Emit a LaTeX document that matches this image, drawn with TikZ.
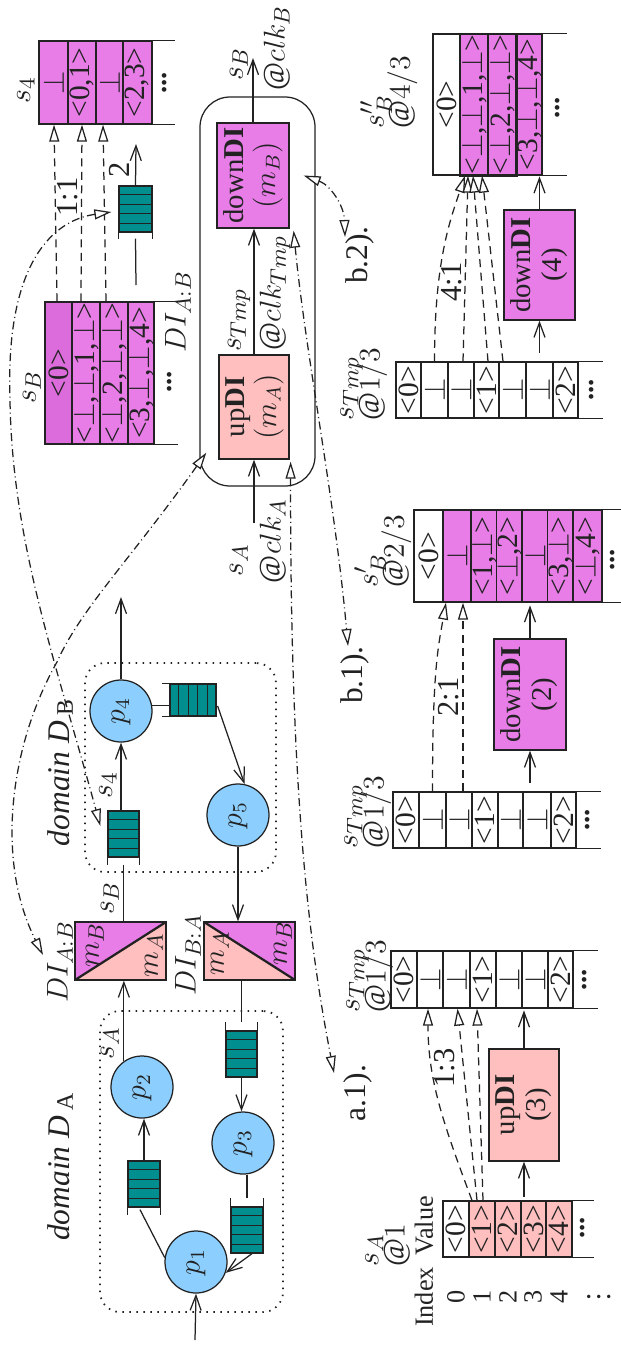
\documentclass[tikz,border=0pt]{standalone}
\usepackage{graphicx}
\usepackage{fontspec}
\setmainfont{Liberation Serif}
\usetikzlibrary{arrows.meta,calc}
\definecolor{mag}{HTML}{E87DE8}
\definecolor{magd}{HTML}{DC6CDC}
\definecolor{pnk}{HTML}{FFBFBF}
\definecolor{lblue}{HTML}{8CCFFF}
\definecolor{qteal}{HTML}{008E8E}
\definecolor{ln}{HTML}{222222}
\newcommand\R[1]{\rotatebox{90}{#1}}
\newcommand\xbot{$\bot$}
\tikzset{
  sz/.code 2 args={\pgfmathsetlengthmacro\szw{(#1)*0.4pt}\pgfmathsetlengthmacro\szh{(#2)*0.4pt}\pgfkeysalso{/tikz/minimum width=\szw,/tikz/minimum height=\szh}},
  tcell/.style={draw,inner sep=0pt,font=\fontsize{11.8}{13}\selectfont},
  qnode/.style={draw,fill=qteal},
  proc/.style={circle,draw,fill=lblue,minimum size=24.8pt},
  arr/.style={-{Straight Barb[length=6pt,width=4.4pt]}},
  dasharr/.style={dash pattern=on 3.2pt off 2.2pt,-{Triangle[length=6.8pt,width=4pt,fill=white]}},
  dd/.style={dash pattern=on 3.2pt off 1.4pt on 0.4pt off 1.4pt,{Triangle[length=6.8pt,width=4pt,fill=white]}-{Triangle[length=6.8pt,width=4pt,fill=white]}},
  dom/.style={draw,dash pattern=on 0.6pt off 2.2pt,rounded corners=8pt,line width=0.7pt},
  diA/.style={draw,fill=pnk,path picture={\fill[mag] (path picture bounding box.north west) -- (path picture bounding box.north east) -- (path picture bounding box.south west) -- cycle; \draw[line width=0.9pt] (path picture bounding box.south west) -- (path picture bounding box.north east);}},
  diB/.style={draw,fill=pnk,path picture={\fill[mag] (path picture bounding box.north west) -- (path picture bounding box.north east) -- (path picture bounding box.south east) -- cycle; \draw[line width=0.9pt] (path picture bounding box.north west) -- (path picture bounding box.south east);}},
  small/.style={font=\fontsize{10.5}{12}\selectfont},
  lbl/.style={font=\fontsize{12.2}{13}\selectfont},
  big/.style={font=\fontsize{12.6}{14}\selectfont}
}
\newcommand\tcell[7]{\node[tcell,fill=#6,sz={#3-#2}{#5-#4}] (#1) at ({(#2+#3)/2},{(#4+#5)/2}) {\R{#7}};}
\newcommand\qbox[5]{\node[qnode,sz={#3-#2}{#5-#4}] (#1) at ({(#2+#3)/2},{(#4+#5)/2}) {};}
\newcommand\qdivV[1]{\foreach \i in {1,2,3,4}{\draw ($(#1.north west)!\i/5!(#1.south west)$) -- ($(#1.north east)!\i/5!(#1.south east)$);}}
\newcommand\qdivH[1]{\foreach \i in {1,2,3,4}{\draw ($(#1.north west)!\i/5!(#1.north east)$) -- ($(#1.south west)!\i/5!(#1.south east)$);}}
\newcommand\twol[2]{\R{\begin{tabular}{@{}l@{}}#1\\[-2.5pt]#2\end{tabular}}}
\newcommand\twoc[2]{\R{\begin{tabular}{@{}c@{}}#1\\#2\end{tabular}}}
\begin{document}
\begin{tikzpicture}[x=0.4pt,y=-0.4pt,line width=0.5pt,color=ln,
  every node/.style={font=\fontsize{11.5}{12.5}\selectfont,inner sep=0pt}]
\useasboundingbox (0,0) rectangle (620,1346);

% ---------- s_4 table ----------
\tcell{sfa}{39}{68}{41}{124}{mag}{\xbot}
\tcell{sfb}{68}{96}{41}{124}{mag}{<0,1>}
\tcell{sfc}{96}{123}{41}{124}{mag}{\xbot}
\tcell{sfd}{123}{152}{41}{124}{mag}{<2,3>}
\draw (sfd.north east) -- ++(22,0) (sfd.south east) -- ++(22,0);
\node (sfdots) at (165,83) {\R{\textbf{...}}};
\node[lbl] (lsf) at (26,90) {\R{$s_4$}};

% ---------- s_B table ----------
\tcell{sBa}{45}{72}{302}{444}{magd}{<0>}
\tcell{sBb}{72}{100}{302}{444}{mag}{<\xbot,\xbot,1,\xbot>}
\tcell{sBc}{100}{128}{302}{444}{mag}{<\xbot,2,\xbot,\xbot>}
\tcell{sBd}{128}{154}{302}{444}{mag}{<3,\xbot,\xbot,4>}
\draw (sBd.north east) -- ++(23,0) (sBd.south east) -- ++(23,0);
\node (sBdots) at (170,382) {\R{\textbf{...}}};
\node[lbl] (lsB) at (32,387) {\R{$s_B$}};
\node[lbl] (lDIab1) at (178,312) {\R{$DI_{A:B}$}};

% dashed s_B -> s_4
\draw[dasharr] ($(sBa.north)+(-1.5,0)$) -- ($(sfa.south)+(0.5,0)$);
\draw[dasharr] ($(sBb.north)+(-5,0)$) -- (sfb.south);
\draw[dasharr] ($(sBc.north)+(-8,0)$) -- ($(sfc.south)+(-6.5,0)$);
\node[lbl] (l11) at (68,197) {\R{1:1}};

% queue q1
\qbox{q1}{119}{152}{186}{232}
\qdivV{q1}
\draw (q1.south west) -- ++(0,6) (q1.south east) -- ++(0,6);
\coordinate (q1in) at (136,285);
\coordinate (q1out) at (136,144);
\draw (q1in) -- ($(q1.south)+(0,6)$);
\draw[arr] (q1.north) -- (q1out);
\node[lbl] (l2) at (119,170) {\R{2}};

% ---------- central wrapper ----------
\node[draw,rounded corners=12pt,sz={115}{389}] (wrap) at (257.5,291.5) {};
\node[draw,fill=mag,sz={72}{105}] (downB) at (253,175.5) {\twoc{down\textbf{DI}}{$(m_B)$}};
\node[draw,fill=pnk,sz={70}{104}] (upA) at (254,407) {\twoc{up\textbf{DI}}{$(m_A)$}};
\coordinate (clkA) at (254,523);
\coordinate (outB) at (253,58);
\draw[arr] (clkA) -- (upA.south);
\draw[arr] (upA.north) -- (upA.north |- downB.south);
\draw[arr] (downB.north) -- (outB);
\node[lbl] (lsA) at (239,560) {\R{$s_A$}};
\node[lbl] (lclkA) at (273,541) {\R{$@clk_A$}};
\node[lbl] (lsT) at (239,320) {\R{$s_{Tmp}$}};
\node[lbl] (lclkT) at (275,293) {\R{$@clk_{Tmp}$}};
\node[lbl] (lsBo) at (239,64) {\R{$s_B$}};
\node[lbl] (lclkB) at (277,48) {\R{$@clk_B$}};

% ---------- domain B ----------
\node[dom,sz={191}{209}] (domB) at (180.5,767.5) {};
\node[big] (ldB) at (60,773) {\R{\textit{domain D}\,\raisebox{-1.5pt}{\fontsize{9.5}{10}\selectfont B}}};
\node[proc] (p4) at (121,711) {\R{$p_4$}};
\node[proc] (p5) at (238,815) {\R{$p_5$}};
\qbox{q3}{170}{216}{684}{716}
\qdivH{q3}
\draw (q3.north west) -- ++(-7,0) (q3.south west) -- ++(-7,0);
\qbox{q2}{108}{139}{811}{857}
\qdivV{q2}
\draw (q2.south west) -- ++(0,7) (q2.south east) -- ++(0,7);
\coordinate (p4out) at (121,597);
\draw[arr] (p4.north) -- (p4out);
\draw (p4.10) -- (p4.10 -| q3.west);
\draw[arr] ($(q3.east)+(1,6)$) -- (p5.78);
\draw[arr] (q2.north -| p4.south) -- (p4.south);
\node[lbl] (ls4) at (108,785) {\R{$s_4$}};

% ---------- DI boxes ----------
\node[diA,sz={91}{58}] (DIab) at (120.5,951) {};
\node[lbl] (mB1) at (95,945) {\R{$m_B$}};
\node[lbl] (mA1) at (154,955) {\R{$m_A$}};
\node[diB,sz={91}{58}] (DIba) at (249.5,951) {};
\node[lbl] (mA2) at (220,953) {\R{$m_A$}};
\node[lbl] (mB2) at (283,943) {\R{$m_B$}};
\node[lbl] (lDIab2) at (60,962) {\R{$DI_{A:B}$}};
\node[lbl] (lDIba) at (188,955) {\R{$DI_{B:A}$}};
\draw (DIab.north -| q2.south) -- ($(q2.south)+(0,7)$);
\node[lbl] (lsB2) at (110,898) {\R{$s_B$}};
\draw[arr] (p5.south) -- (p5.south |- DIba.north);

% ---------- domain A ----------
\node[dom,sz={183}{301}] (domA) at (191.5,1161.5) {};
\node[big] (ldA) at (60,1167) {\R{\textit{domain D}\,\raisebox{-1.5pt}{\fontsize{9.5}{10}\selectfont A}}};
\node[proc] (p1) at (196,1262) {\R{$p_1$}};
\node[proc] (p2) at (142,1087) {\R{$p_2$}};
\node[proc] (p3) at (243,1143) {\R{$p_3$}};
\qbox{q4}{226}{257}{1031}{1077}
\qdivV{q4}
\draw (q4.north west) -- ++(0,-8) (q4.north east) -- ++(0,-8);
\qbox{q5}{128}{160}{1161}{1207}
\qdivV{q5}
\draw (q5.south west) -- ++(0,7) (q5.south east) -- ++(0,7);
\qbox{q6}{231}{263}{1207}{1253}
\qdivV{q6}
\draw (q6.north west) -- ++(0,-8) (q6.north east) -- ++(0,-8);
\draw[arr] (p2.125) -- (p2.125 |- DIab.south);
\node[lbl] (lsA2) at (110,1043) {\R{$s_A$}};
\draw (DIba.south -| q4.north) -- ($(q4.north)+(0,-8)$);
\draw[arr] (q4.south) -- (q4.south |- p3.north);
\draw (p3.south -| q6.north) -- ($(q6.north)+(0,-8)$);
\draw[arr] ($(q6.south)+(5,0)$) -- (p1.-20);
\draw (p1.172) -- ($(q5.south)+(-4,2)$);
\draw[arr] (q5.north) -- (q5.north |- p2.south);
\coordinate (p1in) at (195,1340);
\draw[arr] (p1in) -- (p1.south);

% ---------- s''_B table ----------
\tcell{sCa}{433}{460}{34}{175}{white}{<0>}
\tcell{sCb}{460}{488}{34}{175}{mag}{<\xbot,\xbot,1,\xbot>}
\tcell{sCc}{488}{516}{34}{175}{mag}{<\xbot,2,\xbot,\xbot>}
\tcell{sCd}{516}{542}{34}{175}{mag}{<3,\xbot,\xbot,4>}
\draw[line width=0.7pt] (sCb.north west) rectangle (sCc.south east);
\draw (sCd.north east) -- ++(24,0) (sCd.south east) -- ++(24,0);
\node (sCdots) at (558,108) {\R{\textbf{...}}};
\node[lbl] (lsC) at (390,92) {\twol{$s''_B$}{$@4/3$}};

% downDI(4)
\node[draw,fill=mag,sz={71}{110}] (box4) at (539.5,265) {\twoc{down\textbf{DI}}{(4)}};
\draw[arr] ($(box4.south)+(0,32)$) -- (box4.south);
\draw[arr] (box4.north) -- ($(box4.north)+(0,-33)$);

% ---------- s_Tmp top ----------
\tcell{tAa}{396}{421}{362}{418}{white}{<0>}
\tcell{tAb}{421}{448}{362}{418}{white}{\xbot}
\tcell{tAc}{448}{474}{362}{418}{white}{\xbot}
\tcell{tAd}{474}{499}{362}{418}{white}{<1>}
\tcell{tAe}{499}{526}{362}{418}{white}{\xbot}
\tcell{tAf}{526}{553}{362}{418}{white}{\xbot}
\tcell{tAg}{553}{578}{362}{418}{white}{<2>}
\draw (tAg.north east) -- ++(24,0) (tAg.south east) -- ++(24,0);
\node (tAdots) at (592,390) {\R{\textbf{...}}};
\node[lbl] (ltA) at (360,384) {\twol{$s_{Tmp}$}{$@1/3$}};

% 4:1 dashed
\draw[dasharr] (tAb.north) .. controls +(0,-100) and +(-15,45) .. ($(sCb.south)+(-9,0)$);
\draw[dasharr] ($(tAc.north)+(2,0)$) -- ($(sCb.south)+(-6,0)$);
\draw[dasharr] ($(tAd.north)+(1.5,0)$) -- ($(sCb.south)+(-1,0)$);
\draw[dasharr] ($(tAe.north)+(-9.5,0)$) -- ($(sCb.south)+(8,0)$);
\node[lbl] (l41) at (452,282) {\R{4:1}};

% ---------- s'_B table ----------
\tcell{sDa}{414}{443}{510}{602}{white}{<0>}
\tcell{sDb}{443}{471}{510}{602}{mag}{\xbot}
\tcell{sDc}{471}{497}{510}{602}{mag}{<1,\xbot>}
\tcell{sDd}{497}{522}{510}{602}{mag}{<\xbot,2>}
\tcell{sDe}{522}{548}{510}{602}{mag}{\xbot}
\tcell{sDf}{548}{573}{510}{602}{mag}{<3,\xbot>}
\tcell{sDg}{573}{602}{510}{602}{mag}{<\xbot,4>}
\draw (sDg.north east) -- ++(20,0) (sDg.south east) -- ++(20,0);
\node (sDdots) at (613,560) {\R{\textbf{...}}};
\node[lbl] (lsD) at (384,551) {\twol{$s'_B$}{$@2/3$}};

% downDI(2)
\node[draw,fill=mag,sz={72}{111}] (box2) at (530,694.5) {\twoc{down\textbf{DI}}{(2)}};
\draw[arr] ($(box2.south)+(0,32)$) -- (box2.south);
\draw[arr] (box2.north) -- ($(box2.north)+(0,-33)$);

% ---------- s_Tmp middle ----------
\tcell{tBa}{393}{419}{792}{848}{white}{<0>}
\tcell{tBb}{419}{446}{792}{848}{white}{\xbot}
\tcell{tBc}{446}{472}{792}{848}{white}{\xbot}
\tcell{tBd}{472}{498}{792}{848}{white}{<1>}
\tcell{tBe}{498}{523}{792}{848}{white}{\xbot}
\tcell{tBf}{523}{551}{792}{848}{white}{\xbot}
\tcell{tBg}{551}{576}{792}{848}{white}{<2>}
\draw (tBg.north east) -- ++(24,0) (tBg.south east) -- ++(24,0);
\node (tBdots) at (588,820) {\R{\textbf{...}}};
\node[lbl] (ltB) at (364,812) {\twol{$s_{Tmp}$}{$@1/3$}};

% 2:1 dashed
\draw[dasharr] (tBb.north) .. controls +(0,-120) and +(-8,45) .. ($(sDb.south)+(-11,0)$);
\draw[dasharr] ($(tBc.north)+(4,0)$) -- ($(sDb.south)+(6,0)$);
\node[lbl] (l21) at (449,697) {\R{2:1}};

% ---------- s_Tmp bottom ----------
\tcell{tCa}{391}{417}{951}{1008}{white}{<0>}
\tcell{tCb}{417}{443}{951}{1008}{white}{\xbot}
\tcell{tCc}{443}{470}{951}{1008}{white}{\xbot}
\tcell{tCd}{470}{496}{951}{1008}{white}{<1>}
\tcell{tCe}{496}{522}{951}{1008}{white}{\xbot}
\tcell{tCf}{522}{548}{951}{1008}{white}{\xbot}
\tcell{tCg}{548}{573}{951}{1008}{white}{<2>}
\draw (tCg.north east) -- ++(24,0) (tCg.south east) -- ++(24,0);
\node (tCdots) at (585,980) {\R{\textbf{...}}};
\node[lbl] (ltC) at (366,976) {\twol{$s_{Tmp}$}{$@1/3$}};

% upDI(3)
\node[draw,fill=pnk,sz={70}{112}] (box3) at (524,1105) {\twoc{up\textbf{DI}}{(3)}};
\draw[arr] ($(box3.south)+(0,35)$) -- (box3.south);
\draw[arr] (box3.north) -- ($(box3.north)+(0,-38)$);

% ---------- s_A table ----------
\tcell{sAa}{443}{469}{1201}{1257}{white}{<0>}
\tcell{sAb}{469}{495}{1201}{1257}{pnk}{<1>}
\tcell{sAc}{495}{521}{1201}{1257}{pnk}{<2>}
\tcell{sAd}{521}{546}{1201}{1257}{pnk}{<3>}
\tcell{sAe}{546}{572}{1201}{1257}{pnk}{<4>}
\draw (sAe.north east) -- ++(21,0) (sAe.south east) -- ++(21,0);
\node (sAdots) at (583,1228) {\R{\textbf{...}}};
\node[lbl] (lsAt) at (385,1245) {\twol{$s_A$}{$@1$}};
\node[small] (lval) at (424,1226) {\R{Value}};
\node[small] (lidx) at (424,1297) {\R{Index}};
\foreach \d/\xx in {0/456,1/482,2/508,3/533,4/559}{\node[small] (ix\d) at (\xx,1297) {\R{\d}};}
\node (ixd) at (592,1297) {\R{$\vdots$}};

% 1:3 dashed
\draw[dasharr] ($(sAb.north)+(-10,0)$) .. controls +(-30,-80) and +(0,70) .. ($(tCb.south)+(-2,0)$);
\draw[dasharr] ($(sAb.north)+(-5,0)$) -- ($(tCc.south)+(1,0)$);
\draw[dasharr] ($(sAb.north)+(1,0)$) -- ($(tCd.south)+(-6,0)$);
\node[lbl] (l13) at (445,1068) {\R{1:3}};

% ---------- dash-dot links ----------
\node[big] (la1) at (358,1093) {\R{a.1).}};
\node[big] (lb1) at (355,675) {\R{b.1).}};
\node[big] (lb2) at (360,255) {\R{b.2).}};
\coordinate (a1tip) at (334,1073);
\coordinate (b1tip) at (348,646);
\coordinate (b2tip) at (345,237);
\coordinate (c4tip) at (43,955);
\draw[dd] ($(upA.south east)+(1,2)$) .. controls (290,800) and (310,950) .. (a1tip);
\draw[dd] ($(downB.south east)+(4,2)$) .. controls (305,350) and (335,500) .. (b1tip);
\draw[dd] ($(downB.east)+(14,0)$) .. controls (330,185) and (344,205) .. (b2tip);
\draw[dd] ($(wrap.south west)+(7,-34)$) .. controls (130,560) and (80,610) .. (57,662) .. controls (10,745) and (-5,860) .. (c4tip);
\draw[dd] ($(q1.west)+(-7,3)$) .. controls (55,220) and (5,260) .. (10,400) .. controls (12,540) and (55,660) .. ($(q2.west)+(-7,-8)$);
\end{tikzpicture}
\end{document}
